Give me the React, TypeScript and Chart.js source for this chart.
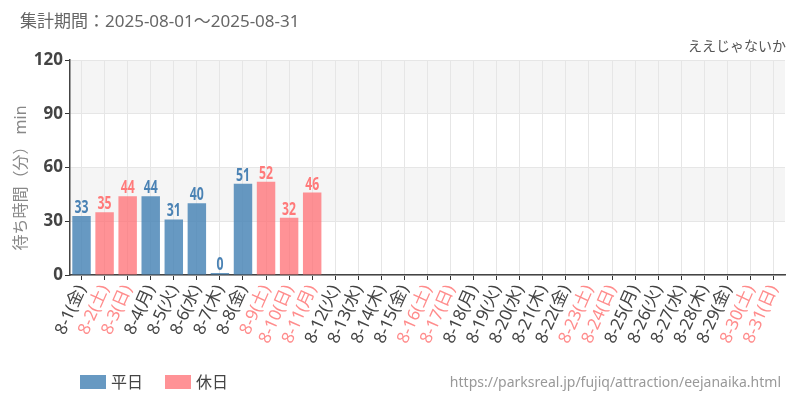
import React, { useEffect, useRef } from "react";
import { Chart, registerables } from "chart.js";

Chart.register(...registerables);

const days = [
  "8-1","8-2","8-3","8-4","8-5","8-6","8-7","8-8","8-9","8-10",
  "8-11","8-12","8-13","8-14","8-15","8-16","8-17","8-18","8-19","8-20",
  "8-21","8-22","8-23","8-24","8-25","8-26","8-27","8-28","8-29","8-30","8-31",
];
const weekdayNames = [
  "金","土","日","月","火","水","木","金","土","日",
  "月","火","水","木","金","土","日","月","火","水",
  "木","金","土","日","月","火","水","木","金","土","日",
];
const holidays = [
  false,true,true,false,false,false,false,false,true,true,
  true,false,false,false,false,true,true,false,false,false,
  false,false,true,true,false,false,false,false,false,true,true,
];
const waits: (number | null)[] = [
  33,35,44,44,31,40,0,51,52,32,
  46,null,null,null,null,null,null,null,null,null,
  null,null,null,null,null,null,null,null,null,null,null,
];
const yTicks = [0, 30, 60, 90, 120];
const periodText = "集計期間：2025-08-01～2025-08-31";
const attractionName = "ええじゃないか";
const sourceUrl = "https://parksreal.jp/fujiq/attraction/eejanaika.html";
const yTitle = "待ち時間（分） min";
const legendItems = ["平日", "休日"];

const FONT = '"Noto Sans", "Noto Sans CJK JP", sans-serif';
const BLUE_FILL = "rgba(70,130,180,0.82)";
const PINK_FILL = "rgba(255,110,115,0.75)";
const BLUE_TEXT = "#4a82b4";
const PINK_TEXT = "#ff7a7a";
const PINK_TICK = "#ff8c8c";

export default function App() {
  const ref = useRef<HTMLCanvasElement | null>(null);

  useEffect(() => {
    if (!ref.current) return;
    const labels = days.map((d, i) => `${d}(${weekdayNames[i]})`);

    const bandsPlugin = {
      id: "bands",
      beforeDraw(chart: any) {
        const { ctx, chartArea } = chart;
        const y = chart.scales.y;
        ctx.save();
        ctx.fillStyle = "#f5f5f5";
        [[30, 60], [90, 120]].forEach(([a, b]) => {
          const y1 = y.getPixelForValue(b);
          const y2 = y.getPixelForValue(a);
          ctx.fillRect(chartArea.left, y1, chartArea.right - chartArea.left, y2 - y1);
        });
        ctx.restore();
      },
    };

    const labelPlugin = {
      id: "valueLabels",
      afterDatasetsDraw(chart: any) {
        const { ctx } = chart;
        const meta = chart.getDatasetMeta(0);
        ctx.save();
        ctx.textAlign = "center";
        ctx.textBaseline = "alphabetic";
        meta.data.forEach((bar: any, i: number) => {
          const v = waits[i];
          if (v === null || v === undefined) return;
          ctx.fillStyle = holidays[i] ? PINK_TEXT : BLUE_TEXT;
          ctx.save();
          ctx.translate(bar.x, bar.y - 3);
          ctx.scale(0.68, 1);
          ctx.font = `bold 18px ${FONT}`;
          ctx.fillText(String(v), 0, 0);
          ctx.restore();
        });
        ctx.restore();
      },
    };

    const decorPlugin = {
      id: "decor",
      afterDraw(chart: any) {
        const { ctx } = chart;
        ctx.save();
        ctx.textBaseline = "middle";
        ctx.fillStyle = "#666";
        ctx.font = `17px ${FONT}`;
        ctx.textAlign = "left";
        ctx.fillText(periodText, 20, 22);
        ctx.fillStyle = "#555";
        ctx.font = `14px ${FONT}`;
        ctx.textAlign = "right";
        ctx.fillText(attractionName, 786, 47);
        ctx.fillStyle = "#999";
        ctx.font = `14px ${FONT}`;
        ctx.fillText(sourceUrl, 781, 383);
        // y-axis title
        ctx.save();
        ctx.translate(21, 178);
        ctx.rotate(-Math.PI / 2);
        ctx.textAlign = "center";
        ctx.fillStyle = "#888";
        ctx.font = `16px ${FONT}`;
        ctx.fillText(yTitle, 0, 0);
        ctx.restore();
        // legend
        ctx.textAlign = "left";
        ctx.font = `16px ${FONT}`;
        const colors = [BLUE_FILL, PINK_FILL];
        const xs = [80, 165];
        legendItems.forEach((t, i) => {
          ctx.fillStyle = colors[i];
          ctx.fillRect(xs[i], 375, 26, 14);
          ctx.fillStyle = "#444";
          ctx.fillText(t, xs[i] + 31, 383);
        });
        ctx.restore();
      },
    };

    const chart = new Chart(ref.current, {
      type: "bar",
      data: {
        labels,
        datasets: [
          {
            data: waits as any,
            backgroundColor: holidays.map((h) => (h ? PINK_FILL : BLUE_FILL)),
            borderWidth: 0,
            barPercentage: 0.8,
            categoryPercentage: 1,
            minBarLength: 2,
          },
        ],
      },
      options: {
        responsive: false,
        animation: false,
        layout: { padding: { top: 60, left: 10, right: 15, bottom: 40 } },
        plugins: {
          legend: { display: false },
          tooltip: { enabled: false },
          title: { display: false },
        },
        scales: {
          x: {
            grid: {
              color: "#e6e6e6",
              offset: false,
              tickColor: "#333",
              tickLength: 5,
            },
            border: { color: "#444", width: 1.5 },
            ticks: {
              minRotation: 66,
              maxRotation: 66,
              autoSkip: false,
              padding: 2,
              font: { family: FONT, size: 17 },
              color: (c: any) => (holidays[c.index] ? PINK_TICK : "#444"),
            },
            afterFit(scale: any) {
              scale.height = 85;
            },
          },
          y: {
            min: 0,
            max: 120,
            afterBuildTicks(scale: any) {
              scale.ticks = yTicks.map((v) => ({ value: v }));
            },
            grid: { color: "#e6e6e6", tickColor: "#333", tickLength: 5 },
            border: { color: "#444", width: 1.5 },
            ticks: {
              padding: 2,
              font: { family: FONT, size: 17, weight: "bold" },
              color: "#444",
            },
            afterFit(scale: any) {
              scale.width = 60;
            },
          },
        },
      },
      plugins: [bandsPlugin, labelPlugin, decorPlugin],
    });
    return () => chart.destroy();
  }, []);

  return (
    <div style={{ position: "fixed", left: 0, top: 0, width: 800, height: 400, background: "#fff" }}>
      <canvas ref={ref} width={800} height={400} style={{ width: 800, height: 400 }} />
    </div>
  );
}
